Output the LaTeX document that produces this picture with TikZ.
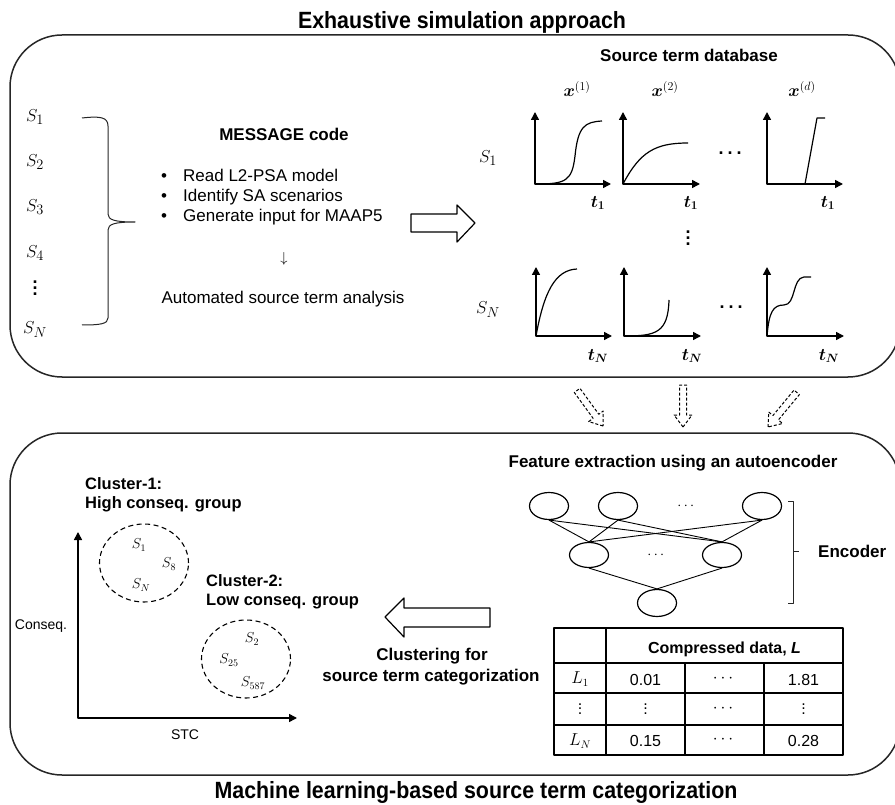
\documentclass[tikz,border=0pt]{standalone}
\usepackage{amsmath}
\usepackage[no-math]{fontspec}
\setmainfont{Liberation Sans}
\newfontfamily\titlefont[FakeStretch=0.91]{Liberation Sans}
\usetikzlibrary{arrows.meta,shapes.geometric}
\newcommand{\myvdots}[1]{\vbox{\baselineskip=#1\lineskiplimit=0pt\hbox{.}\hbox{.}\hbox{.}}}
\begin{document}
\begin{tikzpicture}[x=1pt,y=-1pt,line join=round,
  frame/.style={draw=black!85,line width=1.5pt,rounded corners=52pt},
  titletxt/.style={font=\titlefont\fontsize{23.5}{26}\selectfont\bfseries,inner sep=0pt},
  headtxt/.style={font=\fontsize{17}{20}\selectfont\bfseries,inner sep=0pt},
  bodytxt/.style={font=\fontsize{17}{20}\selectfont,inner sep=0pt},
  grouptxt/.style={font=\fontsize{16.5}{19}\selectfont\bfseries,inner sep=0pt},
  smalltxt/.style={font=\fontsize{14}{17}\selectfont,inner sep=0pt},
  tabtxt/.style={font=\fontsize{16}{19}\selectfont,inner sep=0pt},
  mathlbl/.style={font=\fontsize{19}{22}\selectfont,inner sep=0pt},
  axlbl/.style={font=\fontsize{18}{21}\selectfont,inner sep=0pt},
  smallmath/.style={font=\fontsize{14}{16}\selectfont,inner sep=0pt},
  dotstxt/.style={font=\fontsize{18}{20}\selectfont\bfseries,inner sep=0pt},
  axisline/.style={line width=1.5pt,{Triangle[length=8pt,width=8pt]}-{Triangle[length=8pt,width=8pt]}},
  curve/.style={line width=1.2pt},
  hollow/.style={draw=black,line width=1.2pt,fill=white},
  dasharrow/.style={draw=black,line width=1pt,dash pattern=on 3pt off 2pt},
  neuron/.style={draw=black,line width=1.2pt,ellipse,minimum width=39pt,minimum height=27pt,inner sep=0pt},
  clusterell/.style={draw=black,line width=1.1pt,dash pattern=on 5pt off 3.5pt,ellipse,minimum width=89pt,minimum height=78pt,inner sep=0pt},
  netedge/.style={line width=0.9pt},
  tblline/.style={line width=1.5pt},
  bracket/.style={line width=1pt,draw=black!85}]
\useasboundingbox (0,0) rectangle (895,805);
\clip (0,0) rectangle (895,805);

% ---------- titles ----------
\node[titletxt,anchor=base] (title1) at (462,29) {Exhaustive simulation approach};
\node[titletxt,anchor=base] (title2) at (476,798) {Machine learning-based source term categorization};

% ---------- frames ----------
\draw[frame] (10,35) rectangle (900,377);
\draw[frame] (10,433) rectangle (900,775);

% ---------- scenario list ----------
\node[mathlbl] (s1) at (35,117) {$S_1$};
\node[mathlbl] (s2) at (35,162) {$S_2$};
\node[mathlbl] (s3) at (35,207) {$S_3$};
\node[mathlbl] (s4) at (35,253) {$S_4$};
\node[dotstxt] (sdots) at (35,288) {\myvdots{6pt}};
\node[mathlbl] (sN) at (35,330) {$S_N$};

\draw[bracket] (82,118) .. controls (100,116) and (108,117) .. (108,126) -- (108,214)
  .. controls (108,220) and (115,222) .. (135,222)
  .. controls (115,222) and (108,224) .. (108,230) -- (108,318)
  .. controls (108,324) and (100,325) .. (82,325);

% ---------- MESSAGE code ----------
\node[headtxt,anchor=base] (msg) at (284,141) {MESSAGE code};
\node[bodytxt,anchor=base] (bu1) at (164,182) {\textbullet};
\node[bodytxt,anchor=base] (bu2) at (164,202) {\textbullet};
\node[bodytxt,anchor=base] (bu3) at (164,222) {\textbullet};
\node[bodytxt,anchor=base west] (it1) at (183,182) {Read L2-PSA model};
\node[bodytxt,anchor=base west] (it2) at (183,202) {Identify SA scenarios};
\node[bodytxt,anchor=base west] (it3) at (183,222) {Generate input for MAAP5};
\node[smalltxt] (darr) at (284,259) {$\downarrow$};
\node[bodytxt,anchor=base] (autom) at (283,304) {Automated source term analysis};

% big arrow to database
\draw[hollow] (411,214) -- (457,214) -- (457,205) -- (475,223) -- (457,242) -- (457,232) -- (411,232) -- cycle;

% ---------- source term database ----------
\node[headtxt,anchor=base] (stdb) at (689,62) {Source term database};
\node[axlbl] (xa) at (577,89) {$\boldsymbol{x}^{(1)}$};
\node[axlbl] (xb) at (665,89) {$\boldsymbol{x}^{(2)}$};
\node[axlbl] (xc) at (802,89) {$\boldsymbol{x}^{(d)}$};
\node[mathlbl] (rs1) at (488,158) {$S_1$};
\node[mathlbl] (rsN) at (488,310) {$S_N$};

% axes row 1
\draw[axisline] (535,112) -- (535,184) -- (611,184);
\draw[axisline] (623,112) -- (623,184) -- (700,184);
\draw[axisline] (767,112) -- (767,184) -- (843,184);
% axes row N
\draw[axisline] (536,267) -- (536,336) -- (612,336);
\draw[axisline] (624,267) -- (624,336) -- (701,336);
\draw[axisline] (767,267) -- (767,336) -- (844,336);

% curves row 1
\draw[curve] (536,184) .. controls (566,184) and (572,181) .. (575,156)
  .. controls (578,126) and (585,122) .. (602,121);
\draw[curve] (623,184) .. controls (640,152) and (655,143) .. (688,143);
\draw[curve] (805,184) -- (817,118) -- (825,118);
% curves row N
\draw[curve] (536,336) .. controls (544,292) and (555,270) .. (577,269);
\draw[curve] (624,336) .. controls (656,336) and (668,333) .. (669,300);
\draw[curve] (767,336) .. controls (769,312) and (773,305) .. (784,305)
  .. controls (796,305) and (792,278) .. (804,277) -- (811,277);

% time labels
\node[axlbl] (ta) at (598,203) {$\boldsymbol{t_1}$};
\node[axlbl] (tb) at (691,203) {$\boldsymbol{t_1}$};
\node[axlbl] (tc) at (828,203) {$\boldsymbol{t_1}$};
\node[axlbl] (td) at (598,356) {$\boldsymbol{t_N}$};
\node[axlbl] (te) at (692,356) {$\boldsymbol{t_N}$};
\node[axlbl] (tf) at (829,356) {$\boldsymbol{t_N}$};
\node[dotstxt] (hd1) at (730,153) {.\hspace{4pt}.\hspace{4pt}.};
\node[dotstxt] (hd2) at (731,307) {.\hspace{4pt}.\hspace{4pt}.};
\node[dotstxt] (vd1) at (688,238) {\myvdots{6pt}};

% ---------- dashed arrows between boxes ----------
\begin{scope}[shift={(603,426)},rotate=-54]
\draw[dasharrow] (0,0) -- (-12,9) -- (-12,3.5) -- (-44,3.5) -- (-44,-3.5) -- (-12,-3.5) -- (-12,-9) -- cycle;
\end{scope}
\begin{scope}[shift={(683,427)},rotate=-90]
\draw[dasharrow] (0,0) -- (-12,9) -- (-12,3.5) -- (-42,3.5) -- (-42,-3.5) -- (-12,-3.5) -- (-12,-9) -- cycle;
\end{scope}
\begin{scope}[shift={(768,427)},rotate=-129.6]
\draw[dasharrow] (0,0) -- (-12,9) -- (-12,3.5) -- (-45,3.5) -- (-45,-3.5) -- (-12,-3.5) -- (-12,-9) -- cycle;
\end{scope}

% ---------- autoencoder ----------
\node[headtxt,anchor=base] (feat) at (673,467) {Feature extraction using an autoencoder};
\node[neuron] (n1) at (549,506) {};
\node[neuron] (n2) at (618,506) {};
\node[neuron] (n3) at (762,506) {};
\node[smalltxt] (nd1) at (687,506) {$\cdots$};
\node[neuron,minimum height=25pt] (m1) at (589,555) {};
\node[neuron,minimum height=25pt] (m2) at (722,555) {};
\node[smalltxt] (nd2) at (657,555) {$\cdots$};
\node[neuron] (o1) at (657,603) {};
\foreach \a in {n1,n2,n3}{
  \foreach \b in {m1,m2}{
    \draw[netedge] (\a.south) -- (\b.north);
  }
}
\draw[netedge] (m1.south) -- (o1.north);
\draw[netedge] (m2.south) -- (o1.north);

\coordinate (bt) at (788,501);
\coordinate (bb) at (788,603);
\coordinate (bm) at (799,551);
\draw[bracket] (bt) -- (793,501) -- (793,603) -- (bb);
\draw[bracket] (793,551) -- (bm);
\node[headtxt,anchor=base west] (enc) at (818,557) {Encoder};

% ---------- table ----------
\draw[tblline] (554,628) rectangle (843,755);
\draw[tblline] (606,628) -- (606,755);
\draw[tblline] (685,663) -- (685,755);
\draw[tblline] (764,663) -- (764,755);
\draw[tblline] (554,663) -- (843,663);
\draw[tblline] (554,693) -- (843,693);
\draw[tblline] (554,725) -- (843,725);
\node[tabtxt,font=\fontsize{16}{19}\selectfont\bfseries,anchor=base] (thead) at (724.5,653) {Compressed data, \textit{L}};
\node[mathlbl,font=\fontsize{16}{18}\selectfont] (l1) at (580,679) {$L_1$};
\node[tabtxt,anchor=base] (c12) at (645.5,685) {0.01};
\node[tabtxt] (c13) at (724.5,679) {$\cdots$};
\node[tabtxt,anchor=base] (c14) at (803.5,685) {1.81};
\node[tabtxt] (c21) at (580,709) {\myvdots{4.5pt}};
\node[tabtxt] (c22) at (645.5,709) {\myvdots{4.5pt}};
\node[tabtxt] (c23) at (724.5,709) {$\cdots$};
\node[tabtxt] (c24) at (803.5,709) {\myvdots{4.5pt}};
\node[mathlbl,font=\fontsize{16}{18}\selectfont] (lN) at (580,741) {$L_N$};
\node[tabtxt,anchor=base] (c32) at (645.5,746) {0.15};
\node[tabtxt] (c33) at (724.5,740) {$\cdots$};
\node[tabtxt,anchor=base] (c34) at (803.5,746) {0.28};

% big arrow to clustering
\draw[hollow] (385,617) -- (404,598) -- (404,608) -- (490,608) -- (490,627) -- (404,627) -- (404,637) -- cycle;
\node[headtxt,anchor=base] (clu1) at (432,660) {Clustering for};
\node[headtxt,anchor=base] (clu2) at (431,681) {source term categorization};

% ---------- cluster plot ----------
\draw[line width=1.5pt,{Triangle[length=8pt,width=8pt]}-{Triangle[length=8pt,width=8pt]}] (78,532) -- (78,718) -- (297,718);
\node[smalltxt,anchor=base] (conseq) at (41,629) {Conseq.};
\node[smalltxt,anchor=base] (stc) at (185,739) {STC};
\node[grouptxt,anchor=base west] (cl1a) at (85,489) {Cluster-1:};
\node[grouptxt,anchor=base west] (cl1b) at (85,508) {High conseq. group};
\node[grouptxt,anchor=base west] (cl2a) at (206,586) {Cluster-2:};
\node[grouptxt,anchor=base west] (cl2b) at (206,605) {Low conseq. group};
\node[clusterell] (e1) at (144,563) {};
\node[clusterell] (e2) at (246,659) {};
\node[smallmath] (p1) at (139,545) {$S_1$};
\node[smallmath] (p2) at (169,564) {$S_8$};
\node[smallmath] (p3) at (141,585) {$S_N$};
\node[smallmath] (q1) at (252,639) {$S_2$};
\node[smallmath] (q2) at (229,660) {$S_{25}$};
\node[smallmath] (q3) at (253,683) {$S_{587}$};
\end{tikzpicture}
\end{document}
